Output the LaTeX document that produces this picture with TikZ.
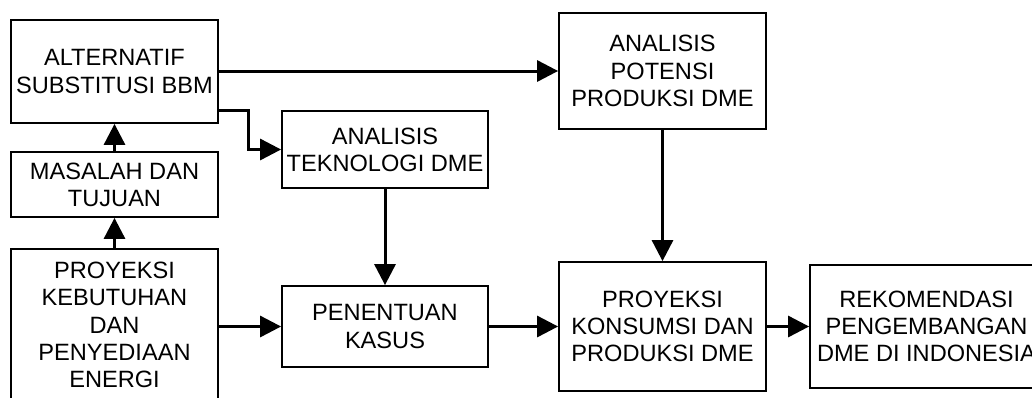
\documentclass[tikz,border=0pt]{standalone}
\usepackage{fontspec}
\setmainfont{Liberation Sans}
\usetikzlibrary{arrows.meta}
\begin{document}
\begin{tikzpicture}[x=0.5pt,y=-0.5pt]
        		\tikzstyle{block}=[rectangle,draw=black,line width=0.9pt,align=center,inner sep=0pt,font=\fontsize{11.8}{13.6}\selectfont]
        		\tikzstyle{edge}=[draw, line width=1.5pt, -{Triangle[length=10.5pt,width=10.5pt]}]
        		\useasboundingbox (0,0) rectangle (1032,397);
       			\begin{scope}
        			\node [block,minimum width=103.5pt,minimum height=51.5pt] (alt) at (114.5,71.5) {ALTERNATIF\\SUBSTITUSI BBM};
        			\node [block,minimum width=103.5pt,minimum height=32.5pt] (masalah) at (114.5,184.5) {MASALAH DAN\\TUJUAN};
        			\node [block,minimum width=103.5pt,minimum height=76pt] (kebutuhan) at (114.5,325) {PROYEKSI\\KEBUTUHAN\\DAN\\PENYEDIAAN\\ENERGI};
        			\node [block,minimum width=103pt,minimum height=38.5pt] (teknologi) at (385,149.5) {ANALISIS\\TEKNOLOGI DME};
        			\node [block,minimum width=103pt,minimum height=40.5pt] (kasus) at (385,326.5) {PENENTUAN\\KASUS};
        			\node [block,minimum width=103.5pt,minimum height=58pt] (potensi) at (662.5,71) {ANALISIS\\POTENSI\\PRODUKSI DME};
        			\node [block,minimum width=103.5pt,minimum height=64.5pt] (konsumsi) at (662.5,326.5) {PROYEKSI\\KONSUMSI DAN\\PRODUKSI DME};
        			\node [block,minimum width=116.5pt,minimum height=61.5pt] (rekomendasi) at (926.5,326.5) {REKOMENDASI\\PENGEMBANGAN\\DME DI INDONESIA};
        			\coordinate (belok) at (248,110);
        			\path[edge] (kebutuhan) -- (masalah);
        			\path[edge] (masalah) -- (alt);
        			\path[edge] (alt.east |- potensi.west) -- (potensi.west);
        			\path[edge] (belok -| alt.east) -- (belok) |- (teknologi.west);
        			\path[edge] (kasus.west -| kebutuhan.east) -- (kasus.west);
        			\path[edge] (teknologi) -- (kasus);
        			\path[edge] (potensi) -- (konsumsi);
        			\path[edge] (kasus) -- (konsumsi);
        			\path[edge] (konsumsi) -- (rekomendasi);
        		\end{scope}
      		\end{tikzpicture}
\end{document}
